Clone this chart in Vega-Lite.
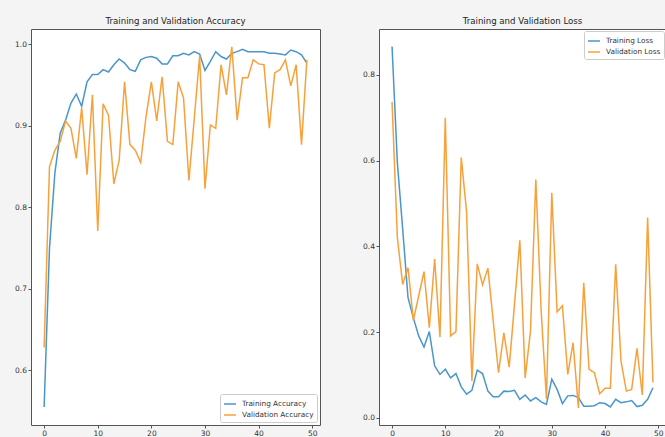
{
  "$schema": "https://vega.github.io/schema/vega-lite/v6.json",
  "background": "#f4f4f4",
  "padding": {"left": 0, "top": 16, "right": 2, "bottom": 0},
  "spacing": 27,
  "datasets": {
    "acc": [
      {"epoch":0,"Training Accuracy":0.555,"Validation Accuracy":0.628},
      {"epoch":1,"Training Accuracy":0.750,"Validation Accuracy":0.850},
      {"epoch":2,"Training Accuracy":0.842,"Validation Accuracy":0.870},
      {"epoch":3,"Training Accuracy":0.891,"Validation Accuracy":0.881},
      {"epoch":4,"Training Accuracy":0.907,"Validation Accuracy":0.906},
      {"epoch":5,"Training Accuracy":0.928,"Validation Accuracy":0.897},
      {"epoch":6,"Training Accuracy":0.939,"Validation Accuracy":0.860},
      {"epoch":7,"Training Accuracy":0.924,"Validation Accuracy":0.922},
      {"epoch":8,"Training Accuracy":0.954,"Validation Accuracy":0.840},
      {"epoch":9,"Training Accuracy":0.963,"Validation Accuracy":0.938},
      {"epoch":10,"Training Accuracy":0.963,"Validation Accuracy":0.771},
      {"epoch":11,"Training Accuracy":0.969,"Validation Accuracy":0.927},
      {"epoch":12,"Training Accuracy":0.966,"Validation Accuracy":0.913},
      {"epoch":13,"Training Accuracy":0.975,"Validation Accuracy":0.829},
      {"epoch":14,"Training Accuracy":0.982,"Validation Accuracy":0.858},
      {"epoch":15,"Training Accuracy":0.977,"Validation Accuracy":0.954},
      {"epoch":16,"Training Accuracy":0.969,"Validation Accuracy":0.877},
      {"epoch":17,"Training Accuracy":0.967,"Validation Accuracy":0.870},
      {"epoch":18,"Training Accuracy":0.981,"Validation Accuracy":0.855},
      {"epoch":19,"Training Accuracy":0.984,"Validation Accuracy":0.911},
      {"epoch":20,"Training Accuracy":0.985,"Validation Accuracy":0.954},
      {"epoch":21,"Training Accuracy":0.983,"Validation Accuracy":0.906},
      {"epoch":22,"Training Accuracy":0.976,"Validation Accuracy":0.960},
      {"epoch":23,"Training Accuracy":0.976,"Validation Accuracy":0.881},
      {"epoch":24,"Training Accuracy":0.986,"Validation Accuracy":0.877},
      {"epoch":25,"Training Accuracy":0.986,"Validation Accuracy":0.954},
      {"epoch":26,"Training Accuracy":0.989,"Validation Accuracy":0.934},
      {"epoch":27,"Training Accuracy":0.987,"Validation Accuracy":0.833},
      {"epoch":28,"Training Accuracy":0.991,"Validation Accuracy":0.909},
      {"epoch":29,"Training Accuracy":0.988,"Validation Accuracy":0.986},
      {"epoch":30,"Training Accuracy":0.968,"Validation Accuracy":0.823},
      {"epoch":31,"Training Accuracy":0.979,"Validation Accuracy":0.901},
      {"epoch":32,"Training Accuracy":0.991,"Validation Accuracy":0.897},
      {"epoch":33,"Training Accuracy":0.985,"Validation Accuracy":0.975},
      {"epoch":34,"Training Accuracy":0.982,"Validation Accuracy":0.938},
      {"epoch":35,"Training Accuracy":0.989,"Validation Accuracy":0.997},
      {"epoch":36,"Training Accuracy":0.991,"Validation Accuracy":0.907},
      {"epoch":37,"Training Accuracy":0.994,"Validation Accuracy":0.959},
      {"epoch":38,"Training Accuracy":0.991,"Validation Accuracy":0.959},
      {"epoch":39,"Training Accuracy":0.991,"Validation Accuracy":0.981},
      {"epoch":40,"Training Accuracy":0.991,"Validation Accuracy":0.976},
      {"epoch":41,"Training Accuracy":0.991,"Validation Accuracy":0.975},
      {"epoch":42,"Training Accuracy":0.989,"Validation Accuracy":0.897},
      {"epoch":43,"Training Accuracy":0.989,"Validation Accuracy":0.965},
      {"epoch":44,"Training Accuracy":0.988,"Validation Accuracy":0.969},
      {"epoch":45,"Training Accuracy":0.987,"Validation Accuracy":0.981},
      {"epoch":46,"Training Accuracy":0.993,"Validation Accuracy":0.949},
      {"epoch":47,"Training Accuracy":0.991,"Validation Accuracy":0.975},
      {"epoch":48,"Training Accuracy":0.987,"Validation Accuracy":0.877},
      {"epoch":49,"Training Accuracy":0.977,"Validation Accuracy":0.981}
    ],
    "loss": [
      {"epoch":0,"Training Loss":0.866,"Validation Loss":0.737},
      {"epoch":1,"Training Loss":0.595,"Validation Loss":0.420},
      {"epoch":2,"Training Loss":0.440,"Validation Loss":0.311},
      {"epoch":3,"Training Loss":0.280,"Validation Loss":0.350},
      {"epoch":4,"Training Loss":0.233,"Validation Loss":0.227},
      {"epoch":5,"Training Loss":0.191,"Validation Loss":0.284},
      {"epoch":6,"Training Loss":0.165,"Validation Loss":0.341},
      {"epoch":7,"Training Loss":0.201,"Validation Loss":0.210},
      {"epoch":8,"Training Loss":0.121,"Validation Loss":0.370},
      {"epoch":9,"Training Loss":0.101,"Validation Loss":0.188},
      {"epoch":10,"Training Loss":0.113,"Validation Loss":0.700},
      {"epoch":11,"Training Loss":0.093,"Validation Loss":0.191},
      {"epoch":12,"Training Loss":0.103,"Validation Loss":0.201},
      {"epoch":13,"Training Loss":0.072,"Validation Loss":0.607},
      {"epoch":14,"Training Loss":0.055,"Validation Loss":0.480},
      {"epoch":15,"Training Loss":0.064,"Validation Loss":0.086},
      {"epoch":16,"Training Loss":0.111,"Validation Loss":0.359},
      {"epoch":17,"Training Loss":0.103,"Validation Loss":0.310},
      {"epoch":18,"Training Loss":0.062,"Validation Loss":0.349},
      {"epoch":19,"Training Loss":0.049,"Validation Loss":0.226},
      {"epoch":20,"Training Loss":0.049,"Validation Loss":0.105},
      {"epoch":21,"Training Loss":0.062,"Validation Loss":0.198},
      {"epoch":22,"Training Loss":0.061,"Validation Loss":0.118},
      {"epoch":23,"Training Loss":0.064,"Validation Loss":0.265},
      {"epoch":24,"Training Loss":0.043,"Validation Loss":0.414},
      {"epoch":25,"Training Loss":0.053,"Validation Loss":0.093},
      {"epoch":26,"Training Loss":0.039,"Validation Loss":0.202},
      {"epoch":27,"Training Loss":0.047,"Validation Loss":0.556},
      {"epoch":28,"Training Loss":0.037,"Validation Loss":0.250},
      {"epoch":29,"Training Loss":0.031,"Validation Loss":0.043},
      {"epoch":30,"Training Loss":0.090,"Validation Loss":0.525},
      {"epoch":31,"Training Loss":0.066,"Validation Loss":0.247},
      {"epoch":32,"Training Loss":0.033,"Validation Loss":0.261},
      {"epoch":33,"Training Loss":0.051,"Validation Loss":0.101},
      {"epoch":34,"Training Loss":0.052,"Validation Loss":0.175},
      {"epoch":35,"Training Loss":0.047,"Validation Loss":0.023},
      {"epoch":36,"Training Loss":0.027,"Validation Loss":0.315},
      {"epoch":37,"Training Loss":0.027,"Validation Loss":0.113},
      {"epoch":38,"Training Loss":0.028,"Validation Loss":0.105},
      {"epoch":39,"Training Loss":0.035,"Validation Loss":0.056},
      {"epoch":40,"Training Loss":0.033,"Validation Loss":0.069},
      {"epoch":41,"Training Loss":0.025,"Validation Loss":0.069},
      {"epoch":42,"Training Loss":0.043,"Validation Loss":0.358},
      {"epoch":43,"Training Loss":0.035,"Validation Loss":0.132},
      {"epoch":44,"Training Loss":0.037,"Validation Loss":0.062},
      {"epoch":45,"Training Loss":0.040,"Validation Loss":0.066},
      {"epoch":46,"Training Loss":0.026,"Validation Loss":0.162},
      {"epoch":47,"Training Loss":0.029,"Validation Loss":0.053},
      {"epoch":48,"Training Loss":0.043,"Validation Loss":0.467},
      {"epoch":49,"Training Loss":0.070,"Validation Loss":0.082}
    ]
  },
  "hconcat": [
    {
      "width": 289,
      "height": 396,
      "title": "Training and Validation Accuracy",
      "data": {"name": "acc"},
      "transform": [{"fold": ["Training Accuracy", "Validation Accuracy"], "as": ["series", "value"]}],
      "mark": {"type": "line", "strokeWidth": 1.5},
      "encoding": {
        "x": {"field": "epoch", "type": "quantitative", "scale": {"domain": [-2.45, 51.45], "nice": false, "zero": false}, "axis": {"values": [0, 10, 20, 30, 40, 50], "title": null}},
        "y": {"field": "value", "type": "quantitative", "scale": {"domain": [0.533, 1.0188], "nice": false, "zero": false}, "axis": {"values": [0.6, 0.7, 0.8, 0.9, 1.0], "format": ".1f", "title": null}},
        "color": {"field": "series", "type": "nominal", "scale": {"domain": ["Training Accuracy", "Validation Accuracy"], "range": ["#4a96cb", "#f7a13c"]}, "legend": {"orient": "bottom-right", "title": null, "offset": 3}}
      }
    },
    {
      "width": 287,
      "height": 396,
      "title": "Training and Validation Loss",
      "data": {"name": "loss"},
      "transform": [{"fold": ["Training Loss", "Validation Loss"], "as": ["series", "value"]}],
      "mark": {"type": "line", "strokeWidth": 1.5},
      "encoding": {
        "x": {"field": "epoch", "type": "quantitative", "scale": {"domain": [-2.45, 51.45], "nice": false, "zero": false}, "axis": {"values": [0, 10, 20, 30, 40, 50], "title": null}},
        "y": {"field": "value", "type": "quantitative", "scale": {"domain": [-0.017, 0.907], "nice": false, "zero": false}, "axis": {"values": [0, 0.2, 0.4, 0.6, 0.8], "format": ".1f", "title": null}},
        "color": {"field": "series", "type": "nominal", "scale": {"domain": ["Training Loss", "Validation Loss"], "range": ["#4a96cb", "#f7a13c"]}, "legend": {"orient": "top-right", "title": null, "offset": 2}}
      }
    }
  ],
  "resolve": {"scale": {"color": "independent", "y": "independent"}, "legend": {"color": "independent"}},
  "config": {
    "font": "DejaVu Sans",
    "view": {"stroke": "#555555", "strokeWidth": 1, "fill": "white"},
    "axis": {"grid": false, "domain": false, "tickColor": "#555555", "tickSize": 3, "labelFontSize": 7.5, "labelColor": "#333333", "labelPadding": 1.5, "labelFont": "DejaVu Sans"},
    "axisY": {"minExtent": 30, "maxExtent": 30},
    "title": {"fontSize": 8.6, "fontWeight": "normal", "color": "#222222", "offset": 3, "font": "DejaVu Sans"},
    "legend": {"symbolType": "stroke", "symbolStrokeWidth": 1.5, "symbolSize": 144, "labelFontSize": 7.3, "labelColor": "#333333", "labelFont": "DejaVu Sans", "fillColor": "white", "strokeColor": "#cccccc", "padding": 3, "rowPadding": 0, "cornerRadius": 2, "labelOffset": 5}
  }
}
